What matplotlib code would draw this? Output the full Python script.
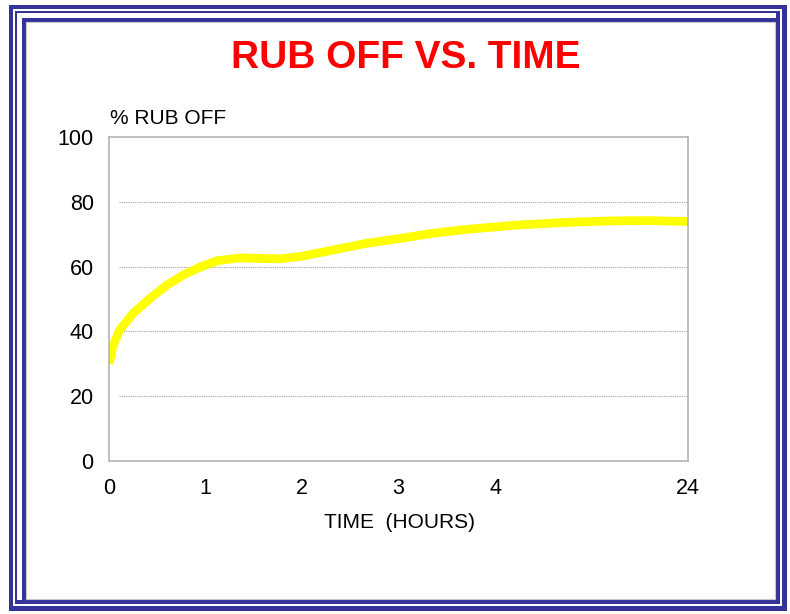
import matplotlib.pyplot as plt
from matplotlib.patches import Rectangle

# x positions are evenly spaced categories; the last tick (24 h) sits two steps after 4
hours_pos = [0, 0.04, 0.11, 0.25, 0.43, 0.6, 0.77, 0.94, 1.12, 1.36, 1.56, 1.77, 1.98,
             2.15, 2.32, 2.67, 3.02, 3.36, 3.71, 4.22, 4.7, 5.2, 5.6, 6.0]
rub_off = [30, 35.5, 40.4, 45.6, 50.3, 54.3, 57.4, 59.8, 61.8, 62.7, 62.5, 62.4, 63.1,
           64.1, 65.1, 67.2, 68.7, 70.3, 71.5, 72.8, 73.6, 74.1, 74.2, 73.9]
tick_pos = [0, 1, 2, 3, 4, 6]
tick_labels = ['0', '1', '2', '3', '4', '24']

W, H = 790, 614
fig = plt.figure(figsize=(W / 100, H / 100), dpi=100)
plt.rcParams['font.family'] = ['Liberation Sans', 'DejaVu Sans']

blue = '#333399'

def frame(x0, y0, x1, y1, color, z):
    # pixel coords, origin top-left
    fig.patches.append(Rectangle((x0 / W, 1 - y1 / H), (x1 - x0) / W, (y1 - y0) / H,
                                 transform=fig.transFigure, facecolor=color,
                                 edgecolor='none', zorder=z))

frame(9, 5, 787, 611, blue, 0)
frame(13, 9, 782, 606, 'white', 1)
frame(15, 11, 780, 604, blue, 2)
frame(17, 13, 776, 600, 'white', 3)
frame(22, 18, 776, 600, blue, 4)
frame(26, 22, 775, 599, 'white', 5)
fig.patches.append(Rectangle((26 / W, 1 - 599 / H), 749 / W, 577 / H,
                             transform=fig.transFigure, facecolor='none',
                             edgecolor='#c8c8c8', lw=0.8, zorder=6))

ax = fig.add_axes([109 / W, 1 - 461 / H, (688 - 109) / W, (461 - 137) / H])
ax.set_zorder(10)
ax.plot(hours_pos, rub_off, color='#ffff00', lw=6.3, solid_capstyle='butt',
        solid_joinstyle='round')
ax.set_xlim(0, 6)
ax.set_ylim(0, 100)
ax.set_xticks(tick_pos)
ax.set_xticklabels(tick_labels)
ax.set_yticks([0, 20, 40, 60, 80, 100])
for y in [20, 40, 60, 80]:
    ax.plot([0.1, 6], [y, y], color='#a0a0a0', lw=0.8, ls=(0, (1, 1)), zorder=1)
for s in ax.spines.values():
    s.set_color('#b4b4b4')
    s.set_linewidth(1.2)
ax.tick_params(length=0, labelsize=15.5)
ax.tick_params(axis='y', pad=11)
ax.tick_params(axis='x', pad=12)

fig.text(110 / W, 1 - 118 / H, '% RUB OFF', fontsize=15, va='center', ha='left', zorder=20)
fig.text(399 / W, 1 - 523 / H, 'TIME  (HOURS)', fontsize=15, va='center', ha='center', zorder=20)
fig.text(406 / W, 1 - 58 / H, 'RUB OFF VS. TIME', fontsize=28, fontweight='bold',
         color='#ff0000', va='center', ha='center', zorder=20)

fig.savefig('out.png', dpi=100)
